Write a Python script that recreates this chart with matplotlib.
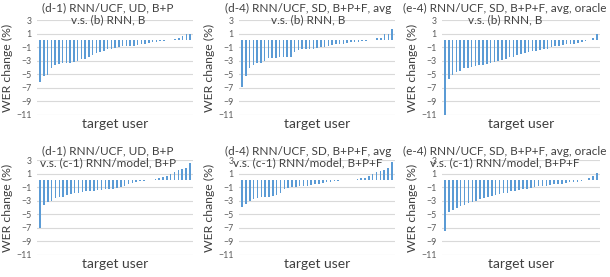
import numpy as np
import matplotlib.pyplot as plt

plt.rcParams['font.family'] = ['Lato', 'DejaVu Sans']

# WER change (%) per target user, sorted ascending
d1_vs_b = [-6.1, -5.3, -5.1, -4.1, -3.7, -3.5, -3.4, -3.4, -3.3, -3.2,
           -3.0, -2.8, -2.7, -2.5, -2.1, -1.9, -1.7, -1.5, -1.3, -1.2,
           -1.1, -1.0, -0.9, -0.9, -0.8, -0.8, -0.7, -0.6, -0.5, -0.4,
           -0.3, -0.2, -0.1, -0.05, 0.05, 0.1, 0.2, 0.4, 0.6, 0.9, 1.0]
d4_vs_b = [-6.8, -5.3, -4.0, -3.6, -3.4, -3.3, -3.0, -2.6, -2.6, -2.6,
           -2.5, -2.5, -2.4, -2.4, -1.7, -1.4, -1.3, -1.3, -1.3, -1.2,
           -1.1, -1.0, -1.0, -0.9, -0.7, -0.6, -0.5, -0.5, -0.4, -0.3,
           -0.2, -0.2, -0.1, -0.05, 0.05, 0.1, 0.3, 0.4, 0.9, 1.0, 1.7]
e4_vs_b = [-11.0, -5.7, -5.1, -4.7, -4.5, -4.1, -4.0, -3.9, -3.8, -3.7,
           -3.6, -3.5, -3.4, -3.2, -3.1, -2.9, -2.7, -2.5, -2.4, -2.2,
           -2.0, -1.9, -1.7, -1.6, -1.5, -1.4, -1.3, -1.2, -1.0, -0.9,
           -0.8, -0.7, -0.6, -0.6, -0.5, -0.4, -0.2, -0.1, 0.05, 0.3, 1.0]
d1_vs_c1 = [-7.0, -3.6, -3.25, -3.0, -2.6, -2.5, -2.4, -2.2, -2.0, -1.9,
            -1.8, -1.7, -1.6, -1.5, -1.5, -1.4, -1.4, -1.3, -1.3, -1.2,
            -1.1, -1.0, -0.8, -0.6, -0.4, -0.2, -0.1, -0.05, 0.05, 0.1,
            0.2, 0.3, 0.5, 0.6, 0.9, 1.2, 1.5, 1.7, 1.8, 2.5]
d4_vs_c1 = [-3.9, -3.5, -3.0, -2.7, -2.6, -2.5, -2.4, -2.4, -2.3, -2.1,
            -1.8, -1.2, -1.1, -1.0, -1.0, -0.9, -0.9, -0.8, -0.7, -0.6,
            -0.5, -0.4, -0.3, -0.2, -0.1, -0.05, 0.05, 0.05, 0.1, 0.1,
            0.2, 0.3, 0.4, 0.6, 0.9, 1.2, 1.4, 1.5, 1.8, 2.7]
e4_vs_c1 = [-7.4, -4.6, -4.4, -4.1, -3.8, -3.7, -3.4, -3.2, -3.0, -2.8,
            -2.6, -2.4, -2.3, -2.1, -2.0, -1.9, -1.8, -1.6, -1.5, -1.4,
            -1.3, -1.2, -1.1, -1.0, -0.9, -0.8, -0.8, -0.7, -0.6, -0.5,
            -0.5, -0.4, -0.3, -0.2, -0.2, -0.1, 0.05, 0.3, 0.6, 1.15]

titles = ['(d-1) RNN/UCF, UD, B+P\nv.s. (b) RNN, B',
          '(d-4) RNN/UCF, SD, B+P+F, avg\nv.s. (b) RNN, B',
          '(e-4) RNN/UCF, SD, B+P+F, avg, oracle\nv.s. (b) RNN, B',
          '(d-1) RNN/UCF, UD, B+P\nv.s. (c-1) RNN/model, B+P',
          '(d-4) RNN/UCF, SD, B+P+F, avg\nv.s. (c-1) RNN/model, B+P+F',
          '(e-4) RNN/UCF, SD, B+P+F, avg, oracle\nv.s. (c-1) RNN/model, B+P+F']
series = [d1_vs_b, d4_vs_b, e4_vs_b, d1_vs_c1, d4_vs_c1, e4_vs_c1]
yticks = [3, 1, -1, -3, -5, -7, -9, -11]

W, H = 610, 277
fig = plt.figure(figsize=(W / 100, H / 100), dpi=100)

# plot areas in pixels: left, top, right, bottom
lefts = [37, 239, 442]
rights = [193, 395, 600]
tops = [20, 160]
bottoms = [115, 255]
title_x = [108, 308, 505]
title_y = [14, 157]

blue = '#5B9BD5'
for i, (vals, title) in enumerate(zip(series, titles)):
    r, c = divmod(i, 3)
    l, rr = lefts[c], rights[c]
    t, b = tops[r], bottoms[r]
    ax = fig.add_axes([l / W, 1 - b / H, (rr - l) / W, (b - t) / H])
    x = np.arange(len(vals))
    ax.bar(x, vals, width=0.4, color=blue, zorder=3)
    ax.set_xlim(-0.8, len(vals) - 0.2)
    ax.set_ylim(-11, 3)
    ax.set_yticks(yticks)
    ax.set_xticks([])
    ax.tick_params(axis='y', length=0, labelsize=6.3, labelcolor='#595959', pad=4)
    ax.grid(axis='y', color='#D9D9D9', lw=0.8, zorder=0)
    for s in ax.spines.values():
        s.set_visible(False)
    ax.set_ylabel('WER change (%)', fontsize=8.8, color='#404040', labelpad=2)
    ax.set_xlabel('target user', fontsize=10, color='#404040', labelpad=2)
    fig.text(title_x[c] / W, 1 - title_y[r] / H, title, ha='center', va='center',
             fontsize=8.5, color='#404040', linespacing=1.1)

fig.savefig('out.png', dpi=100)
